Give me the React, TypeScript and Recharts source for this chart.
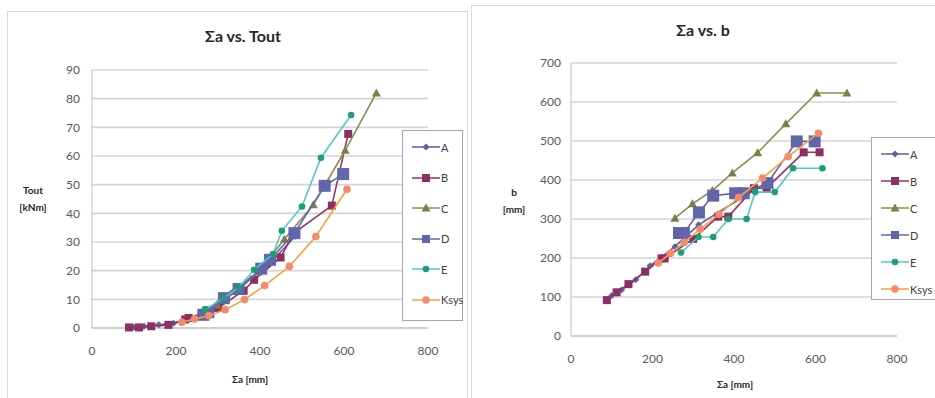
import { ScatterChart, Scatter, XAxis, YAxis, CartesianGrid } from "recharts";

// Σa [mm] per series
const X_A = [100, 124, 159, 194, 255, 313, 420, 484];
const X_B = [88, 112, 141, 182, 222, 230, 300, 361, 386, 449, 480, 571, 610];
const X_C = [255, 298, 347, 396, 458, 527, 603, 677];
const X_D = [265, 277, 314, 349, 403, 424, 482, 554, 598];
const X_E = [270, 313, 349, 386, 431, 452, 500, 545, 617];
const X_K = [214, 244, 278, 317, 363, 411, 470, 533, 607];

// Tout [kNm]
const TOUT_A = [0.3, 0.6, 1.1, 1.7, 4.0, 11.0, 22, 32];
const TOUT_B = [0.2, 0.2, 0.6, 1.1, 3.0, 3.5, 7, 13, 16.8, 24.6, 33, 42.7, 67.7];
const TOUT_C = [4, 8, 13, 19.5, 31, 43, 62, 82];
const TOUT_D = [4.6, 5.5, 10.4, 13.6, 20.7, 23.8, 33.1, 49.6, 53.7];
const TOUT_E = [6.4, 10.4, 14.1, 20.3, 25.8, 33.9, 42.4, 59.4, 74.3];
const TOUT_K = [2.0, 3.1, 4.3, 6.4, 9.9, 14.8, 21.5, 31.9, 48.4];

// b [mm]
const B_A = [104, 118, 144, 180, 229, 285, 355, 396];
const B_B = [92, 112, 133, 165, 199, 199, 249, 306, 306, 379, 379, 471, 471];
const B_C = [302, 339, 373, 418, 470, 544, 623, 623];
const B_D = [264, 264, 317, 360, 366, 366, 392, 499, 499];
const B_E = [214, 254, 254, 300, 300, 369, 369, 430, 430];
const B_K = [187, 212, 240, 274, 312, 355, 405, 460, 520];

const X_TICKS = [0, 200, 400, 600, 800];
const TOUT_TICKS = [0, 10, 20, 30, 40, 50, 60, 70, 80, 90];
const B_TICKS = [0, 100, 200, 300, 400, 500, 600, 700];

type Kind = "diamond" | "square" | "triangle" | "bigsquare" | "dot" | "circle";

const SERIES: { name: string; line: string; mark: string; kind: Kind; x: number[]; tout: number[]; b: number[] }[] = [
  { name: "A", line: "#5B5FA6", mark: "#5B5FA6", kind: "diamond", x: X_A, tout: TOUT_A, b: B_A },
  { name: "B", line: "#8C3566", mark: "#8C2F63", kind: "square", x: X_B, tout: TOUT_B, b: B_B },
  { name: "C", line: "#8D8D4C", mark: "#7E7E48", kind: "triangle", x: X_C, tout: TOUT_C, b: B_C },
  { name: "D", line: "#6165A9", mark: "#6165A9", kind: "bigsquare", x: X_D, tout: TOUT_D, b: B_D },
  { name: "E", line: "#52C8CA", mark: "#1E9E74", kind: "dot", x: X_E, tout: TOUT_E, b: B_E },
  { name: "Ksys", line: "#F8A13F", mark: "#F68A6F", kind: "circle", x: X_K, tout: TOUT_K, b: B_K },
];

function marker(kind: Kind, cx: number, cy: number, c: string) {
  switch (kind) {
    case "diamond":
      return <polygon points={`${cx},${cy - 3.5} ${cx + 3.5},${cy} ${cx},${cy + 3.5} ${cx - 3.5},${cy}`} fill={c} />;
    case "square":
      return <rect x={cx - 4} y={cy - 4} width={8} height={8} fill={c} />;
    case "triangle":
      return <polygon points={`${cx},${cy - 4.5} ${cx + 4.5},${cy + 3.5} ${cx - 4.5},${cy + 3.5}`} fill={c} />;
    case "bigsquare":
      return <rect x={cx - 6} y={cy - 6} width={12} height={12} fill={c} />;
    case "dot":
      return <circle cx={cx} cy={cy} r={3.3} fill={c} />;
    default:
      return <circle cx={cx} cy={cy} r={3.8} fill={c} />;
  }
}

const tickStyle = { fill: "#595959", fontSize: 12 };
const GRID = "#D4D4D4";

function Legend({ left, top, width, height, gap }: { left: number; top: number; width: number; height: number; gap: number }) {
  return (
    <div style={{ position: "absolute", left, top, width, height, background: "#fff", border: "1px solid #A3A3C9", boxSizing: "border-box" }}>
      {SERIES.map((s, i) => (
        <div key={s.name} style={{ position: "absolute", left: 9, top: 8 + i * gap, display: "flex", alignItems: "center", height: 16 }}>
          <svg width={28} height={16}>
            <line x1={0} y1={8} x2={28} y2={8} stroke={s.line} strokeWidth={1.5} />
            {marker(s.kind === "bigsquare" ? "square" : s.kind, 14, 8, s.mark)}
          </svg>
          <span style={{ fontSize: 11, color: "#404040", marginLeft: 1 }}>{s.name}</span>
        </div>
      ))}
    </div>
  );
}

function Panel({ field, ticks, max, width, height, margin, tickGap }: {
  field: "tout" | "b"; ticks: number[]; max: number; width: number; height: number;
  margin: { top: number; right: number; bottom: number; left: number }; tickGap: number;
}) {
  return (
    <ScatterChart width={width} height={height} margin={margin}>
      <CartesianGrid vertical={false} stroke={GRID} strokeWidth={1.6} />
      <XAxis type="number" dataKey="x" domain={[0, 800]} ticks={X_TICKS} tick={tickStyle} tickLine={false}
        axisLine={{ stroke: "#BFBFBF" }} tickMargin={12} height={30} />
      <YAxis type="number" dataKey="y" domain={[0, max]} ticks={ticks} tick={tickStyle} tickLine={false}
        axisLine={{ stroke: "#BFBFBF" }} tickMargin={tickGap} width={40} />
      {SERIES.map((s) => (
        <Scatter key={s.name} name={s.name} data={s.x.map((x, i) => ({ x, y: s[field][i] }))}
          line={{ stroke: s.line, strokeWidth: 1.6 }} lineType="joint" isAnimationActive={false}
          shape={(p: any) => marker(s.kind, p.cx, p.cy, s.mark)} />
      ))}
    </ScatterChart>
  );
}

const bold = { position: "absolute" as const, fontWeight: 700, color: "#262626", textAlign: "center" as const };

export default function App() {
  return (
    <div style={{ position: "absolute", left: 0, top: 0, width: 935, height: 398, background: "#fff", fontFamily: "Lato, 'Open Sans', sans-serif", overflow: "hidden" }}>
      <div style={{ position: "absolute", left: 7, top: 11, width: 459, height: 386, border: "1px solid #D9D9D9" }} />
      <div style={{ position: "absolute", left: 471, top: 5, width: 470, height: 392, border: "1px solid #D9D9D9" }} />

      <div style={{ position: "absolute", left: 0, top: 0 }}>
        <Panel field="tout" ticks={TOUT_TICKS} max={90} width={470} height={398}
          margin={{ top: 70, right: 42, bottom: 40, left: 52 }} tickGap={6} />
      </div>
      <div style={{ position: "absolute", left: 470, top: 0 }}>
        <Panel field="b" ticks={B_TICKS} max={700} width={465} height={398}
          margin={{ top: 63, right: 38, bottom: 32, left: 61 }} tickGap={4} />
      </div>

      <div style={{ ...bold, left: 143, top: 26, width: 200, fontSize: 16 }}>Σa vs. Tout</div>
      <div style={{ ...bold, left: 603, top: 20, width: 200, fontSize: 16 }}>Σa vs. b</div>

      <div style={{ ...bold, left: 8, top: 182, width: 50, fontSize: 10, lineHeight: "17px" }}>Tout<br />[kNm]</div>
      <div style={{ ...bold, left: 489, top: 184, width: 50, fontSize: 10, lineHeight: "17px" }}>b<br />[mm]</div>

      <div style={{ ...bold, left: 200, top: 373, width: 100, fontSize: 10 }}>Σa [mm]</div>
      <div style={{ ...bold, left: 685, top: 378, width: 100, fontSize: 10 }}>Σa [mm]</div>

      <Legend left={402} top={130} width={61} height={191} gap={30.5} />
      <Legend left={871} top={137} width={70} height={163} gap={27} />
    </div>
  );
}
